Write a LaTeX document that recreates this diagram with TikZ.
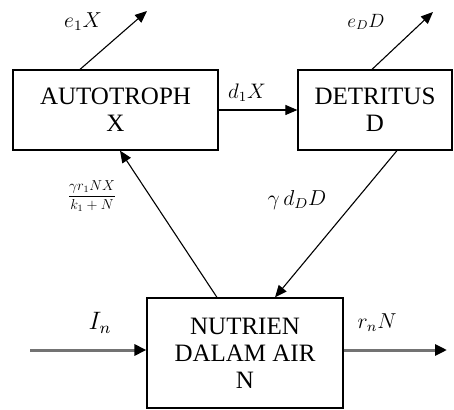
\documentclass[tikz,border=0pt]{standalone}
\usepackage{amsmath}
\usepackage{graphicx}
\usepackage{fontspec}
\setmainfont{Liberation Serif}
\usetikzlibrary{arrows.meta,calc}
\newcommand{\mlbl}[2]{\scalebox{#1}{$#2$}}
\begin{document}
\begin{tikzpicture}[x=1pt,y=1pt,
  box/.style={draw,line width=1.2pt,inner sep=0pt,align=center,font=\fontsize{25}{27}\selectfont},
  flow/.style={line width=1.1pt,-{Triangle[length=12pt,width=10pt]}},
  ext/.style={line width=3pt,draw=black!55,-{Triangle[length=12pt,width=11pt,color=black]}},
  lbl/.style={inner sep=0pt,font=\fontsize{12}{14}\selectfont}]
\useasboundingbox (0,0) rectangle (454,409);
\node[box,minimum width=205pt,minimum height=80pt] (A) at (115.5,299) {AUTOTROPH\\X};
\node[box,minimum width=154pt,minimum height=80pt] (D) at (375,299) {DETRITUS\\D};
\node[box,minimum width=196pt,minimum height=110pt] (N) at (245,56) {NUTRIEN\\DALAM AIR\\N};
\coordinate (e1end) at (147,398);
\coordinate (eDend) at (433,397);
\coordinate (inbeg) at (30,59);
\coordinate (outend) at (447,59);
\draw[flow] ([xshift=-35.5pt]A.north) -- (e1end);
\draw[flow] ([xshift=-3pt]D.north) -- (eDend);
\draw[flow] (A.east) -- (D.west);
\draw[flow] ([xshift=-28pt]N.north) -- ([xshift=4.5pt]A.south);
\draw[flow] ([xshift=22pt]D.south) -- ([xshift=30pt]N.north);
\draw[ext] (inbeg) -- ([yshift=3pt]N.west);
\draw[ext] ([yshift=3pt]N.east) -- (outend);
\node[lbl] (l1) at (83,387) {\mlbl{1.8}{e_1X}};
\node[lbl] (l2) at (366,387) {\mlbl{1.6}{e_DD}};
\node[lbl] (l3) at (247,316) {\mlbl{1.75}{d_1X}};
\node[lbl] (l4) at (92,213) {\mlbl{1.2}{\dfrac{\gamma r_1NX}{k_1+N}}};
\node[lbl] (l5) at (297,209) {\mlbl{1.8}{\gamma\, d_DD}};
\node[lbl] (l6) at (100,86) {\mlbl{2.1}{I_n}};
\node[lbl] (l7) at (377,86) {\mlbl{1.8}{r_nN}};
\end{tikzpicture}
\end{document}
